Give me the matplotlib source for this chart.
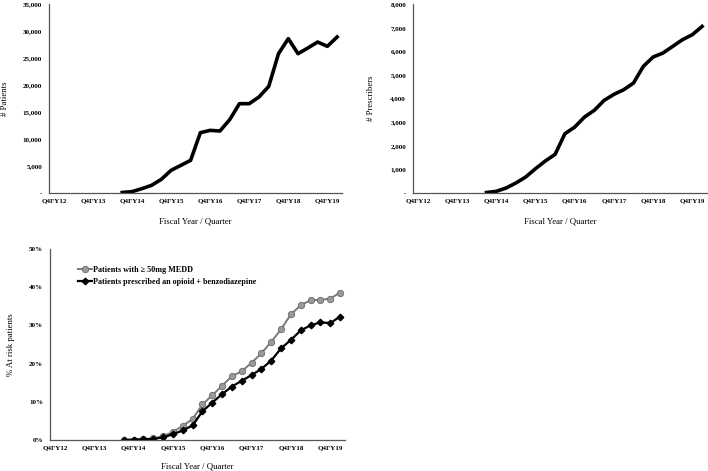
import matplotlib.pyplot as plt
from matplotlib.ticker import FuncFormatter

quarters = ["Q4FY12", "Q1FY13", "Q2FY13", "Q3FY13", "Q4FY13", "Q1FY14", "Q2FY14", "Q3FY14",
            "Q4FY14", "Q1FY15", "Q2FY15", "Q3FY15", "Q4FY15", "Q1FY16", "Q2FY16", "Q3FY16",
            "Q4FY16", "Q1FY17", "Q2FY17", "Q3FY17", "Q4FY17", "Q1FY18", "Q2FY18", "Q3FY18",
            "Q4FY18", "Q1FY19", "Q2FY19", "Q3FY19", "Q4FY19", "Q1FY20"]
data_quarters = quarters[7:]

patients = [100, 250, 800, 1420, 2530, 4200, 5120, 6050, 11170, 11600, 11480, 13580,
            16540, 16540, 17780, 19750, 25800, 28580, 25800, 26850, 27960, 27160, 28890]
prescribers = [20, 70, 212, 423, 677, 1030, 1354, 1636, 2510, 2790, 3216, 3500,
               3920, 4175, 4372, 4654, 5360, 5755, 5924, 6206, 6490, 6700, 7050]
pct_medd = [0.0, 0.1, 0.2, 0.4, 1.0, 2.1, 3.7, 5.5, 9.3, 11.7, 14.2, 16.7,
            18.0, 20.2, 22.7, 25.7, 29.0, 32.9, 35.3, 36.6, 36.7, 37.0, 38.6]
pct_benzo = [0.0, 0.1, 0.2, 0.3, 0.7, 1.5, 2.5, 3.8, 7.5, 9.8, 12.0, 14.0,
             15.5, 17.0, 18.6, 20.8, 24.0, 26.2, 28.7, 30.0, 30.8, 30.6, 32.3]

plt.rcParams['font.family'] = ['Liberation Serif', 'DejaVu Serif']

TICK_FS = 5.0
LABEL_FS = 6.3

fig = plt.figure(figsize=(7.08, 4.71), dpi=100)
W, H = 708, 471


def make_ax(left, top, right, bottom):
    return fig.add_axes([left / W, 1 - bottom / H, (right - left) / W, (bottom - top) / H])


def style(ax, ylabel, ylab_x, xlab_y):
    x = [quarters.index(q) for q in data_quarters]
    ax.set_xlim(-0.5, len(quarters) - 0.5)
    ax.set_xticks(range(0, len(quarters), 4))
    ax.set_xticklabels(quarters[::4])
    ax.tick_params(axis='x', length=0, pad=4, labelsize=TICK_FS)
    ax.tick_params(axis='y', length=0, pad=5, labelsize=TICK_FS)
    for s in ['top', 'right']:
        ax.spines[s].set_visible(False)
    for s in ['left', 'bottom']:
        ax.spines[s].set_color('#555555')
        ax.spines[s].set_linewidth(0.9)
    ax.set_xlabel("Fiscal Year / Quarter", fontsize=LABEL_FS)
    ax.set_ylabel(ylabel, fontsize=LABEL_FS)
    ax.yaxis.set_label_coords(ylab_x, 0.5)
    ax.xaxis.set_label_coords(0.5, xlab_y)
    return x


def bold_ticks(ax):
    for lab in ax.get_xticklabels() + ax.get_yticklabels():
        lab.set_fontweight('bold')


def thousands(v, pos):
    return "-" if v == 0 else f"{v:,.0f}"


ax1 = make_ax(49, 4, 342, 193)
x = style(ax1, "# Patients", -0.135, -0.13)
ax1.plot(x, patients, color='black', lw=2.6, solid_joinstyle='round')
ax1.set_ylim(0, 35000)
ax1.set_yticks(range(0, 35001, 5000))
ax1.yaxis.set_major_formatter(FuncFormatter(thousands))
bold_ticks(ax1)

ax2 = make_ax(413, 4, 707, 193)
x = style(ax2, "# Prescribers", -0.13, -0.13)
ax2.plot(x, prescribers, color='black', lw=2.6, solid_joinstyle='round')
ax2.set_ylim(0, 8000)
ax2.set_yticks(range(0, 8001, 1000))
ax2.yaxis.set_major_formatter(FuncFormatter(thousands))
bold_ticks(ax2)

ax3 = make_ax(50, 249, 345, 440)
x = style(ax3, "% At risk patients", -0.12, -0.12)
ax3.plot(x, pct_medd, color='#7a7a7a', lw=1.4, marker='o', ms=4.6,
         mfc='#999999', mec='#6a6a6a', mew=0.6, label="Patients with \u2265 50mg MEDD")
ax3.plot(x, pct_benzo, color='black', lw=1.6, marker='D', ms=3.3,
         mfc='black', mec='black', label="Patients prescribed an opioid + benzodiazepine")
ax3.set_ylim(0, 50)
ax3.set_yticks(range(0, 51, 10))
ax3.yaxis.set_major_formatter(FuncFormatter(lambda v, p: f"{v:.0f}%"))
bold_ticks(ax3)
ax3.legend(loc='upper left', bbox_to_anchor=(0.085, 0.93), frameon=False,
           prop={'size': 5.9, 'weight': 'bold'}, handlelength=1.7, handletextpad=0.1,
           labelspacing=0.55, borderaxespad=0)

fig.savefig("out.png", dpi=100)
